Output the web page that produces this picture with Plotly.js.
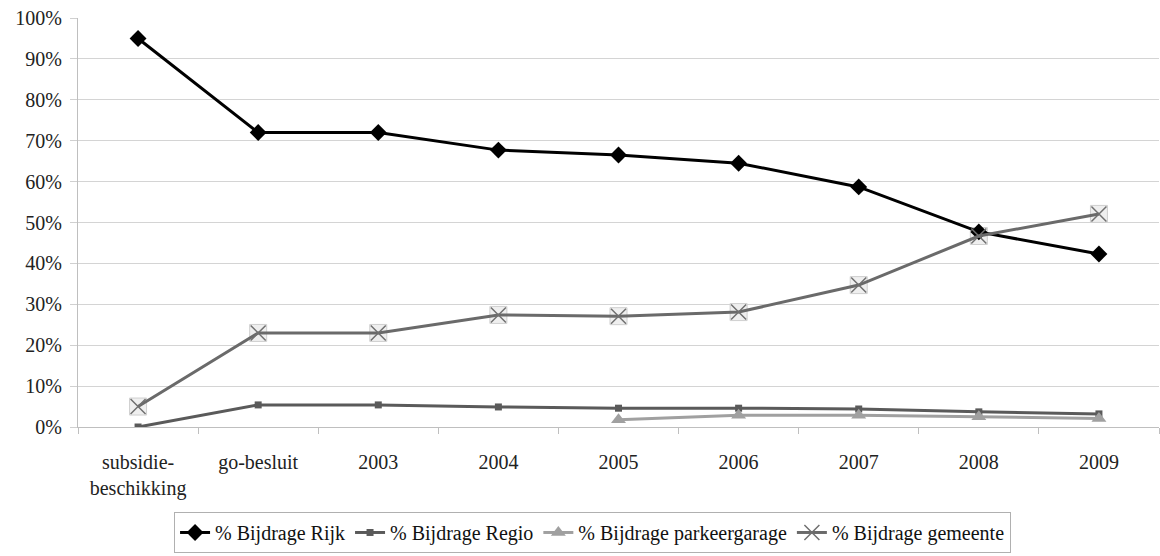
<!DOCTYPE html>
<html>
<head>
<meta charset="utf-8">
<script src="https://cdn.plot.ly/plotly-3.0.1.min.js"></script>
<style>
html,body{margin:0;padding:0;background:#fff;font-family:'Liberation Serif',serif;}
#chart{width:1160px;height:556px;}
</style>
</head>
<body>
<div id="chart"></div>
<script>
const categories = ["subsidie-<br>beschikking", "go-besluit", "2003", "2004", "2005", "2006", "2007", "2008", "2009"];
const rijk = [0.95, 0.72, 0.72, 0.677, 0.665, 0.645, 0.587, 0.477, 0.423];
const regio = [0.0, 0.054, 0.054, 0.049, 0.046, 0.046, 0.044, 0.037, 0.032];
const parkeergarage = [null, null, null, null, 0.018, 0.029, 0.029, 0.025, 0.021];
const gemeente = [0.05, 0.23, 0.23, 0.274, 0.271, 0.281, 0.347, 0.467, 0.521];

const serifFamily = "Liberation Serif";

const traces = [
  {x: categories, y: gemeente, type: "scatter", mode: "markers", showlegend: false, hoverinfo: "skip",
   marker: {symbol: "square", size: 17, color: "#efefef", line: {color: "#cfcfcf", width: 1}}},
  {x: categories, y: rijk, name: "% Bijdrage Rijk", type: "scatter", mode: "lines+markers",
   line: {color: "#000000", width: 3}, marker: {symbol: "diamond", size: 13, color: "#000000"}},
  {x: categories, y: regio, name: "% Bijdrage Regio", type: "scatter", mode: "lines+markers",
   line: {color: "#5a5a5a", width: 3}, marker: {symbol: "square", size: 7, color: "#5a5a5a"}},
  {x: categories, y: parkeergarage, name: "% Bijdrage parkeergarage", type: "scatter", mode: "lines+markers",
   line: {color: "#a0a0a0", width: 3}, marker: {symbol: "triangle-up", size: 13, color: "#a0a0a0"}},
  {x: categories, y: gemeente, name: "% Bijdrage gemeente", type: "scatter", mode: "lines+markers",
   line: {color: "#6a6a6a", width: 3}, marker: {symbol: "x-thin-open", size: 15, color: "#707070", line: {color: "#707070", width: 1.5}}}
];

const layout = {
  width: 1160, height: 556,
  margin: {l: 78, r: 1, t: 18, b: 129},
  paper_bgcolor: "#ffffff", plot_bgcolor: "#ffffff",
  font: {family: serifFamily, size: 20, color: "#222222"},
  showlegend: true,
  legend: {orientation: "h", x: 0.476, xanchor: "center", y: -0.308, yanchor: "bottom",
           bordercolor: "#b0b0b0", borderwidth: 1, font: {family: serifFamily, size: 20, color: "#111"},
           itemwidth: 30, tracegroupgap: 0},
  xaxis: {type: "category", range: [-0.5, 8.5], tickson: "boundaries", ticks: "outside", ticklen: 6,
          tickcolor: "#bfbfbf", showline: true, linecolor: "#bfbfbf", linewidth: 1, showgrid: false,
          ticklabelstandoff: 17, tickfont: {family: serifFamily, size: 20, color: "#222"}, fixedrange: true},
  yaxis: {range: [0, 1], dtick: 0.1, tickformat: ".0%", ticks: "outside", ticklen: 7, tickcolor: "#d0d0d0",
          showline: true, linecolor: "#bfbfbf", linewidth: 1, showgrid: true, gridcolor: "#d4d4d4",
          gridwidth: 1, zeroline: false, ticklabelstandoff: 4, tickfont: {family: serifFamily, size: 20, color: "#222"}}
};

Plotly.newPlot("chart", traces, layout, {displayModeBar: false, staticPlot: true});
</script>
</body>
</html>
